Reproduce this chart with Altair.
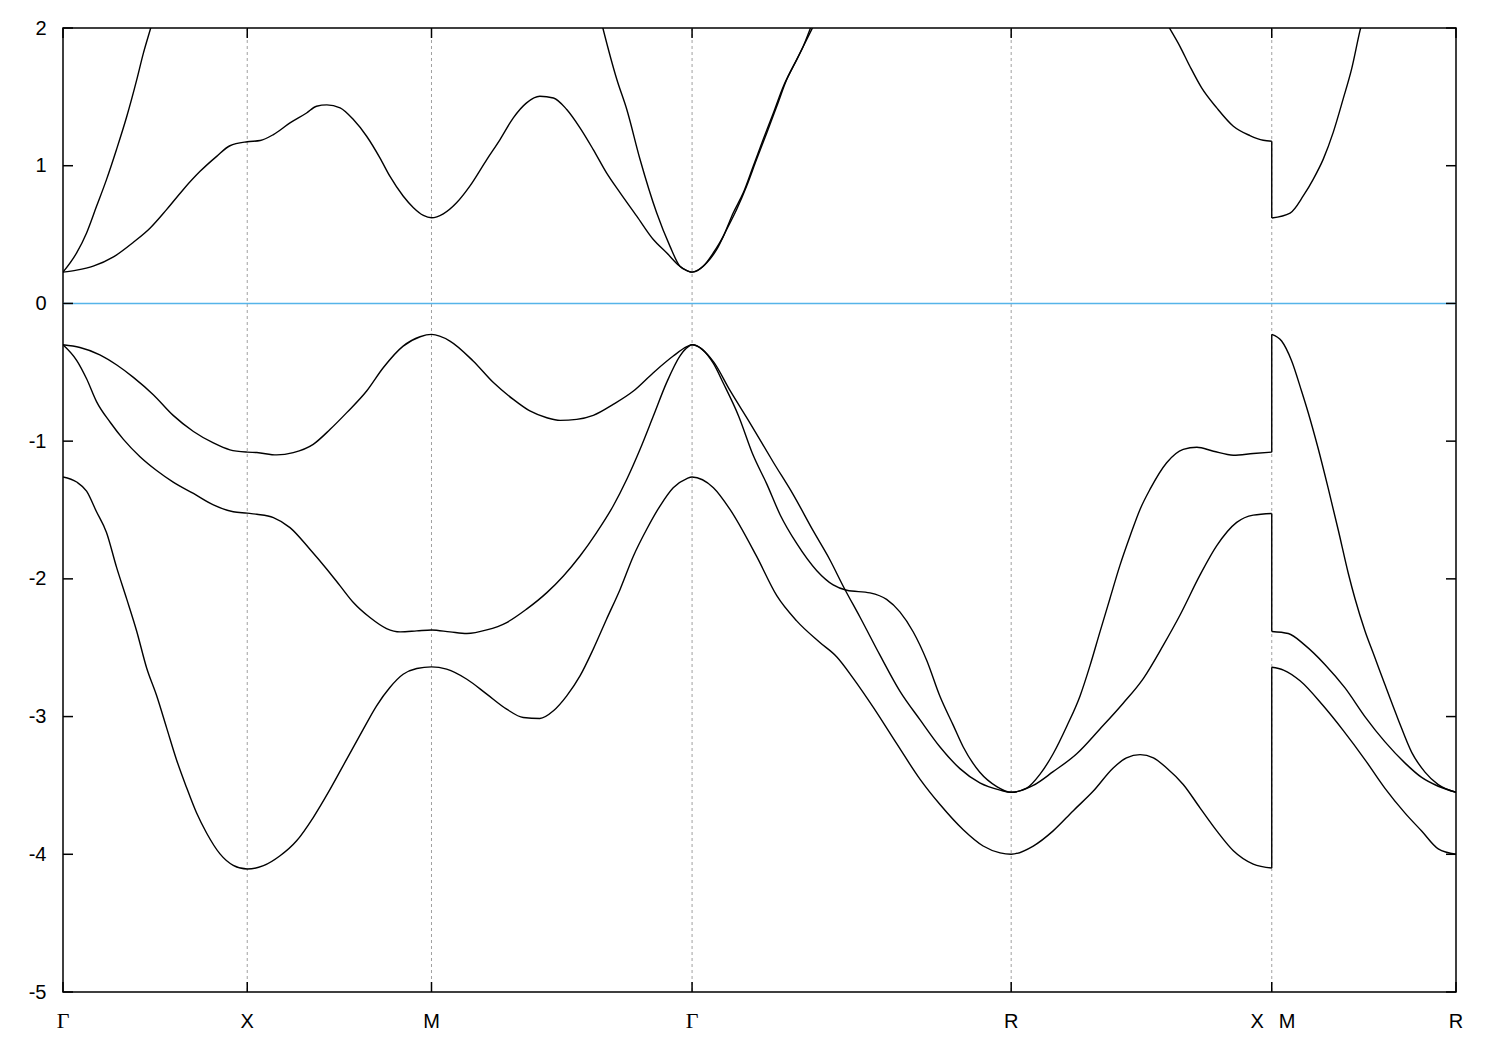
import altair as alt
import pandas as pd

# ---- high-symmetry path (k-distance along Γ-X-M-Γ-R-X|M-R) ----
sym_k = [0.0, 0.5, 1.0, 1.7071, 2.5731, 3.2802, 3.7802]
sym_labels = ["Γ", "X", "M", "Γ", "R", "X|M", "R"]
y_ticks = [-5, -4, -3, -2, -1, 0, 1, 2]
fermi = [0.0]

# ---- valence band 1 ----
v1_k = [0, 0.046, 0.100, 0.146, 0.191, 0.245, 0.299, 0.354, 0.408, 0.453, 0.5,
        0.526, 0.580, 0.625, 0.679, 0.725, 0.770, 0.824, 0.869, 0.923, 0.969, 1.0, 1.050, 1.113,
        1.168, 1.222, 1.267, 1.313, 1.349, 1.394, 1.439, 1.493, 1.548, 1.602, 1.656, 1.693, 1.7071,
        1.765, 1.810, 1.864, 1.928, 1.982, 2.036, 2.081, 2.118, 2.163, 2.217, 2.271, 2.326, 2.380,
        2.434, 2.488, 2.543, 2.5731,
        2.615, 2.651, 2.687, 2.724, 2.760, 2.787, 2.814, 2.841, 2.868, 2.896, 2.923, 2.950, 2.995,
        3.040, 3.077, 3.122, 3.176, 3.230, 3.2802,
        3.2802, 3.307, 3.334, 3.361, 3.379, 3.406, 3.433, 3.461, 3.488, 3.506, 3.533, 3.560, 3.587,
        3.624, 3.660, 3.696, 3.732, 3.7802]
v1_e = [-0.30, -0.32, -0.373, -0.447, -0.537, -0.663, -0.813, -0.93, -1.013, -1.063, -1.08,
        -1.083, -1.10, -1.083, -1.023, -0.914, -0.793, -0.636, -0.467, -0.31, -0.242, -0.225, -0.273, -0.418,
        -0.575, -0.697, -0.781, -0.83, -0.849, -0.842, -0.813, -0.733, -0.636, -0.503, -0.382, -0.314, -0.30,
        -0.423, -0.632, -0.867, -1.155, -1.39, -1.652, -1.861, -2.057, -2.279, -2.554, -2.815, -3.024, -3.221,
        -3.378, -3.482, -3.534, -3.55,
        -3.52, -3.42, -3.27, -3.07, -2.85, -2.63, -2.385, -2.144, -1.904, -1.687, -1.494, -1.349, -1.157,
        -1.06, -1.044, -1.073, -1.102, -1.09, -1.08,
        -0.225, -0.273, -0.416, -0.636, -0.792, -1.052, -1.338, -1.649, -1.961, -2.143, -2.377, -2.571, -2.766,
        -3.026, -3.26, -3.403, -3.494, -3.55]

# ---- valence band 2 ----
v2_k = [0, 0.037, 0.064, 0.091, 0.128, 0.164, 0.209, 0.254, 0.299, 0.354, 0.408, 0.462, 0.5,
        0.526, 0.571, 0.616, 0.670, 0.716, 0.752, 0.788, 0.833, 0.878, 0.915, 0.960, 1.0, 1.050, 1.096,
        1.150, 1.204, 1.258, 1.313, 1.358, 1.403, 1.448, 1.493, 1.530, 1.566, 1.602, 1.638, 1.674, 1.697, 1.7071,
        1.765, 1.792, 1.833, 1.873, 1.910, 1.946, 1.991, 2.045, 2.090, 2.127, 2.190, 2.235, 2.271, 2.307,
        2.344, 2.380, 2.416, 2.443, 2.488, 2.534, 2.5731,
        2.633, 2.687, 2.751, 2.814, 2.877, 2.932, 2.986, 3.031, 3.085, 3.131, 3.185, 3.230, 3.2802,
        3.2802, 3.325, 3.370, 3.425, 3.479, 3.533, 3.587, 3.642, 3.687, 3.732, 3.7802]
v2_e = [-0.30, -0.413, -0.547, -0.713, -0.863, -0.987, -1.113, -1.213, -1.297, -1.38, -1.463, -1.513, -1.523,
        -1.531, -1.555, -1.628, -1.785, -1.93, -2.051, -2.172, -2.281, -2.361, -2.385, -2.378, -2.371, -2.385, -2.397,
        -2.371, -2.317, -2.22, -2.1, -1.979, -1.834, -1.664, -1.471, -1.277, -1.059, -0.818, -0.575, -0.382, -0.314, -0.30,
        -0.436, -0.58, -0.815, -1.103, -1.312, -1.534, -1.743, -1.939, -2.044, -2.083, -2.102, -2.149, -2.24, -2.384,
        -2.593, -2.855, -3.064, -3.221, -3.404, -3.508, -3.55,
        -3.50, -3.40, -3.27, -3.09, -2.903, -2.722, -2.481, -2.264, -1.975, -1.759, -1.59, -1.537, -1.525,
        -2.382, -2.397, -2.481, -2.623, -2.792, -3.0, -3.182, -3.338, -3.442, -3.506, -3.55]

# ---- valence band 3 ----
v3_k = [0, 0.037, 0.064, 0.091, 0.118, 0.145, 0.173, 0.200, 0.227, 0.254, 0.281, 0.308, 0.335, 0.362,
        0.390, 0.426, 0.462, 0.5,
        0.544, 0.589, 0.634, 0.679, 0.725, 0.770, 0.815, 0.851, 0.887, 0.923, 0.960, 1.0,
        1.041, 1.096, 1.150, 1.204, 1.249, 1.294, 1.331, 1.367, 1.403, 1.439, 1.475, 1.512, 1.548, 1.584,
        1.620, 1.656, 1.693, 1.7071,
        1.765, 1.810, 1.882, 1.937, 1.991, 2.054, 2.100, 2.145, 2.199, 2.262, 2.326, 2.380, 2.443, 2.497,
        2.543, 2.5731,
        2.633, 2.687, 2.741, 2.796, 2.850, 2.886, 2.923, 2.959, 2.995, 3.040, 3.085, 3.131, 3.176, 3.230, 3.2802,
        3.2802, 3.312, 3.357, 3.420, 3.475, 3.533, 3.587, 3.642, 3.687, 3.732, 3.7802]
v3_e = [-1.26, -1.297, -1.363, -1.513, -1.663, -1.913, -2.147, -2.38, -2.647, -2.847, -3.08, -3.313, -3.513, -3.697,
        -3.847, -3.997, -4.08, -4.107,
        -4.083, -4.011, -3.902, -3.733, -3.527, -3.309, -3.091, -2.922, -2.789, -2.693, -2.651, -2.639,
        -2.656, -2.729, -2.837, -2.946, -3.007, -3.014, -2.958, -2.85, -2.705, -2.51, -2.293, -2.075, -1.834, -1.64,
        -1.471, -1.338, -1.272, -1.26,
        -1.338, -1.495, -1.835, -2.122, -2.305, -2.462, -2.567, -2.724, -2.933, -3.195, -3.456, -3.639, -3.822, -3.94,
        -3.99, -4.0,
        -3.94, -3.83, -3.685, -3.541, -3.373, -3.3, -3.276, -3.3, -3.373, -3.493, -3.661, -3.83, -3.974, -4.071, -4.1,
        -2.642, -2.662, -2.74, -2.922, -3.104, -3.312, -3.519, -3.701, -3.831, -3.961, -4.0]

# ---- conduction band 1 (two visible pieces) ----
c1a_k = [0, 0.037, 0.082, 0.137, 0.191, 0.236, 0.281, 0.326, 0.372, 0.417, 0.453, 0.5,
         0.535, 0.571, 0.616, 0.661, 0.688, 0.716, 0.752, 0.788, 0.824, 0.860, 0.887, 0.923, 0.951, 0.978, 1.0,
         1.032, 1.068, 1.104, 1.150, 1.186, 1.222, 1.258, 1.294, 1.331, 1.367, 1.403, 1.439, 1.475, 1.512, 1.557,
         1.602, 1.638, 1.674, 1.7071,
         1.738, 1.765, 1.792, 1.819, 1.846, 1.873, 1.900, 1.928, 1.955, 1.982, 2.009, 2.029, 2.043]
c1a_e = [0.227, 0.242, 0.271, 0.338, 0.444, 0.546, 0.681, 0.826, 0.959, 1.068, 1.145, 1.174,
         1.183, 1.226, 1.311, 1.383, 1.432, 1.442, 1.42, 1.335, 1.214, 1.057, 0.924, 0.78, 0.695, 0.639, 0.622,
         0.651, 0.731, 0.852, 1.045, 1.19, 1.347, 1.456, 1.504, 1.492, 1.408, 1.275, 1.117, 0.948, 0.803, 0.634,
         0.464, 0.368, 0.27, 0.227,
         0.271, 0.368, 0.489, 0.658, 0.803, 0.996, 1.19, 1.384, 1.577, 1.722, 1.867, 2.003, 2.10]
c1b_k = [2.977, 3.002, 3.031, 3.058, 3.090, 3.131, 3.176, 3.221, 3.257, 3.2802,
         3.2802, 3.330, 3.366, 3.393, 3.420, 3.447, 3.474, 3.497, 3.520, 3.536]
c1b_e = [2.12, 2.003, 1.867, 1.722, 1.565, 1.42, 1.287, 1.219, 1.185, 1.178,
         0.62, 0.656, 0.782, 0.903, 1.048, 1.242, 1.485, 1.703, 1.984, 2.15]

# ---- conduction band 2 (two visible pieces) ----
c2a_k = [0, 0.037, 0.064, 0.091, 0.118, 0.145, 0.173, 0.200, 0.218, 0.238, 0.254]
c2a_e = [0.227, 0.367, 0.512, 0.705, 0.899, 1.116, 1.357, 1.623, 1.816, 2.0, 2.15]
c2b_k = [1.452, 1.465, 1.503, 1.530, 1.566, 1.611, 1.647, 1.674, 1.697, 1.7071,
         1.747, 1.774, 1.801, 1.828, 1.855, 1.882, 1.910, 1.937, 1.964, 1.991, 2.018, 2.045, 2.060]
c2b_e = [2.14, 2.0, 1.626, 1.408, 1.045, 0.658, 0.416, 0.27, 0.234, 0.227,
         0.295, 0.392, 0.537, 0.682, 0.851, 1.045, 1.239, 1.432, 1.626, 1.771, 1.916, 2.06, 2.14]

bands = {
    "v1": (v1_k, v1_e), "v2": (v2_k, v2_e), "v3": (v3_k, v3_e),
    "c1a": (c1a_k, c1a_e), "c1b": (c1b_k, c1b_e),
    "c2a": (c2a_k, c2a_e), "c2b": (c2b_k, c2b_e),
}

# split each band at the X|M discontinuity (repeated k): smooth pieces + the vertical jump
rows = []
for name, (ks, es) in bands.items():
    assert len(ks) == len(es), name
    piece = 0
    for i, (k, e) in enumerate(zip(ks, es)):
        if i > 0 and k == ks[i - 1]:
            # jump segment made of the two points sharing the same k
            rows.append({"seg": f"{name}_jump", "k": ks[i - 1], "e": es[i - 1], "i": 0})
            rows.append({"seg": f"{name}_jump", "k": k, "e": e, "i": 1})
            piece += 1
        rows.append({"seg": f"{name}_{piece}", "k": k, "e": e, "i": i})
df = pd.DataFrame(rows)

sym_df = pd.DataFrame({"k": sym_k, "label": sym_labels})
grid_df = sym_df.iloc[1:-1]
ytick_df = pd.DataFrame({"v": y_ticks})
fermi_df = pd.DataFrame({"e": fermi})

W, H = 1393, 964
xs = alt.Scale(domain=[0, 3.7802], nice=False, zero=False)
ys = alt.Scale(domain=[-5, 2], nice=False, zero=False)
yaxis = alt.Axis(values=y_ticks, labelExpr="'' + datum.value", ticks=False, tickSize=0,
                 domain=False, grid=False, labelFontSize=20, labelFont="Liberation Sans",
                 labelColor="black", labelPadding=17, title=None)

grid = alt.Chart(grid_df).mark_rule(color="#a0a0a0", strokeDash=[3, 3], strokeWidth=1).encode(
    x=alt.X("k:Q", scale=xs, axis=None))

fermi_line = alt.Chart(fermi_df).mark_rule(color="#56B4E9", strokeWidth=1.6).encode(
    y=alt.Y("e:Q", scale=ys, axis=yaxis))

lines = alt.Chart(df).mark_line(color="black", strokeWidth=1.4, clip=True, strokeJoin="round",
                                interpolate="monotone").encode(
    x=alt.X("k:Q", scale=xs, axis=None),
    y=alt.Y("e:Q", scale=ys, axis=yaxis),
    detail="seg:N",
    order="i:Q",
)

tick_style = dict(color="black", strokeWidth=1.5)
yt_left = alt.Chart(ytick_df).mark_rule(**tick_style).encode(
    y=alt.Y("v:Q", scale=ys, axis=yaxis), x=alt.value(0), x2=alt.value(10))
yt_right = alt.Chart(ytick_df).mark_rule(**tick_style).encode(
    y=alt.Y("v:Q", scale=ys, axis=yaxis), x=alt.value(W - 10), x2=alt.value(W))
xt_bottom = alt.Chart(sym_df).mark_rule(**tick_style).encode(
    x=alt.X("k:Q", scale=xs, axis=None), y=alt.value(H - 10), y2=alt.value(H))
xt_top = alt.Chart(sym_df).mark_rule(**tick_style).encode(
    x=alt.X("k:Q", scale=xs, axis=None), y=alt.value(0), y2=alt.value(10))

lab_base = alt.Chart(sym_df)
lab_gamma = lab_base.transform_filter("datum.label == 'Γ'").mark_text(
    font="Liberation Serif", fontSize=22, baseline="alphabetic", dy=36, color="black").encode(
    x=alt.X("k:Q", scale=xs, axis=None), y=alt.value(H), text="label:N")
lab_plain = lab_base.transform_filter("datum.label != 'Γ' && datum.label != 'X|M'").mark_text(
    font="Liberation Sans", fontSize=20, baseline="alphabetic", dy=36, color="black").encode(
    x=alt.X("k:Q", scale=xs, axis=None), y=alt.value(H), text="label:N")
lab_x = lab_base.transform_filter("datum.label == 'X|M'").mark_text(
    font="Liberation Sans", fontSize=20, baseline="alphabetic", dy=36, dx=-8, align="right",
    color="black").encode(
    x=alt.X("k:Q", scale=xs, axis=None), y=alt.value(H), text=alt.value("X"))
lab_m = lab_base.transform_filter("datum.label == 'X|M'").mark_text(
    font="Liberation Sans", fontSize=20, baseline="alphabetic", dy=36, dx=7, align="left",
    color="black").encode(
    x=alt.X("k:Q", scale=xs, axis=None), y=alt.value(H), text=alt.value("M"))

chart = alt.layer(
    grid, fermi_line, lines, yt_left, yt_right, xt_bottom, xt_top,
    lab_gamma, lab_plain, lab_x, lab_m
).properties(
    width=W, height=H,
    autosize=alt.AutoSizeParams(type="none"),
    padding={"left": 55, "top": 20, "right": 30, "bottom": 50},
    background="white",
).configure_view(stroke="black", strokeWidth=1.5)

chart.save("out.html", embed_options={"renderer": "svg", "actions": False})
